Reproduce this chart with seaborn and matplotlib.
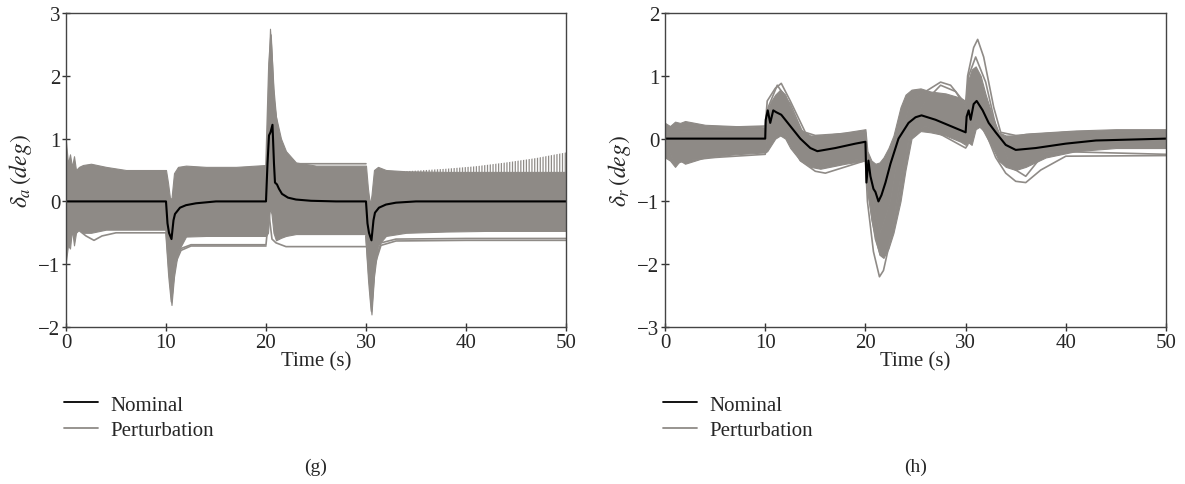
import matplotlib
import seaborn as sns
from matplotlib.lines import Line2D

matplotlib.use('Agg')
import matplotlib.pyplot as plt

# ---- (g) aileron deflection ----
g_nom_t = [0, 10.0, 10.15, 10.3, 10.55, 10.75, 10.9, 11.4, 12, 13, 15, 20.0, 20.15, 20.3, 20.45,
           20.65, 20.8, 20.9, 21.1, 21.3, 21.6, 22.2, 23, 24.5, 27, 30.0, 30.15, 30.3, 30.55,
           30.75, 30.9, 31.3, 32, 33, 35, 50]
g_nom_y = [0, 0, -0.35, -0.5, -0.6, -0.3, -0.2, -0.1, -0.06, -0.03, 0, 0, 0.6, 1.05, 1.1,
           1.22, 0.6, 0.3, 0.27, 0.2, 0.12, 0.06, 0.03, 0.01, 0.0, 0, -0.35, -0.5, -0.62,
           -0.3, -0.18, -0.1, -0.05, -0.02, 0, 0]

g_band_t = [0, 0.2, 0.4, 0.6, 0.8, 1.0, 1.3, 1.7, 2.5, 4, 6, 8, 10.0, 10.2, 10.4, 10.55, 10.8,
            11.2, 12, 14, 17, 20.0, 20.2, 20.4, 20.55, 20.75, 21.0, 21.5, 22.0, 23, 25, 28,
            30.0, 30.2, 30.4, 30.55, 30.8, 31.2, 32, 34, 38, 42, 46, 50]
g_band_hi = [0.95, 0.6, 0.75, 0.55, 0.72, 0.5, 0.55, 0.58, 0.6, 0.55, 0.5, 0.5, 0.5, 0.3, 0.05,
             0.05, 0.45, 0.55, 0.57, 0.55, 0.55, 0.58, 1.8, 2.75, 2.4, 1.8, 1.35, 1.0, 0.8,
             0.62, 0.57, 0.57, 0.57, 0.2, -0.05, 0.1, 0.5, 0.55, 0.5, 0.48, 0.47, 0.47, 0.47, 0.47]
g_band_lo = [-0.95, -0.7, -0.75, -0.45, -0.7, -0.5, -0.45, -0.5, -0.5, -0.45, -0.45, -0.45,
             -0.45, -0.9, -1.4, -1.65, -1.2, -0.8, -0.56, -0.55, -0.55, -0.55, -0.5, -0.1,
             -0.2, -0.5, -0.62, -0.58, -0.55, -0.52, -0.52, -0.52, -0.52, -1.0, -1.55, -1.8,
             -1.2, -0.7, -0.55, -0.5, -0.48, -0.47, -0.47, -0.47]

# growing oscillation tips at the end of (g)
g_osc_t = [32.5, 35, 38, 41, 44, 47, 50]
g_osc_hi = [0.47, 0.49, 0.52, 0.56, 0.62, 0.69, 0.78]
g_osc_lo = [0.45, 0.45, 0.45, 0.45, 0.45, 0.45, 0.45]

g_out = [
    ([1.2, 2.0, 2.8, 3.6, 5, 10.0, 10.3, 10.55, 10.9, 11.5, 12.5, 20.0],
     [-0.45, -0.55, -0.62, -0.55, -0.5, -0.5, -1.2, -1.6, -1.0, -0.78, -0.71, -0.71]),
    ([10.0, 10.3, 10.55, 10.9, 11.5, 12.5, 20.0, 20.3, 20.6, 21.0, 22, 23, 30.0],
     [-0.45, -1.1, -1.5, -0.95, -0.75, -0.69, -0.69, -0.2, -0.6, -0.66, -0.72, -0.72, -0.72]),
    ([30.0, 30.3, 30.55, 30.9, 31.5, 33, 40, 50],
     [-0.55, -1.3, -1.75, -1.0, -0.7, -0.63, -0.62, -0.62]),
    ([30.0, 30.3, 30.55, 30.9, 31.5, 33, 40, 50],
     [-0.55, -1.2, -1.6, -0.95, -0.66, -0.6, -0.59, -0.59]),
    ([20.0, 20.3, 20.5, 20.8, 21.3, 22, 23, 30.0],
     [0.57, 2.2, 2.65, 1.6, 1.0, 0.7, 0.6, 0.6]),
]

# ---- (h) rudder deflection ----
h_nom_t = [0, 10.0, 10.05, 10.25, 10.5, 10.8, 11.1, 11.6, 12.5, 13.5, 14.5, 15.2, 17, 19, 20.0,
           20.1, 20.3, 20.5, 20.8, 21.0, 21.3, 21.6, 22.0, 22.5, 23.3, 24.3, 25, 25.6, 27,
           28.5, 30.0, 30.1, 30.3, 30.5, 30.8, 31.1, 31.7, 32.3, 33, 34, 35, 37, 40, 43, 50]
h_nom_y = [0, 0, 0.3, 0.45, 0.25, 0.45, 0.42, 0.38, 0.2, 0.0, -0.15, -0.2, -0.15, -0.08, -0.05,
           -0.7, -0.35, -0.6, -0.8, -0.85, -1.0, -0.9, -0.7, -0.4, 0.0, 0.25, 0.34, 0.37, 0.3,
           0.2, 0.1, 0.35, 0.45, 0.3, 0.55, 0.6, 0.45, 0.25, 0.1, -0.1, -0.18, -0.15, -0.08,
           -0.03, 0]

h_band_t = [0, 0.5, 1, 1.5, 2, 4, 7, 10.0, 10.2, 10.6, 11.0, 11.5, 12.0, 12.5, 13.5, 14.5,
            15.5, 18, 20.0, 20.2, 20.6, 21.0, 21.4, 21.8, 22.3, 22.8, 23.5, 24.0, 24.6, 25.5,
            26.5, 28, 29.5, 30.0, 30.2, 30.6, 31.0, 31.5, 32.0, 32.7, 33.3, 34, 35, 36, 38,
            41, 45, 50]
h_band_hi = [0.25, 0.2, 0.27, 0.25, 0.28, 0.22, 0.2, 0.18, 0.45, 0.6, 0.7, 0.78, 0.7, 0.5,
             0.15, 0.05, 0.05, 0.1, 0.15, -0.2, -0.35, -0.4, -0.38, -0.3, -0.15, 0.05, 0.5,
             0.7, 0.78, 0.8, 0.75, 0.72, 0.65, 0.6, 0.9, 1.1, 1.15, 1.0, 0.7, 0.35, 0.1, 0.05,
             0.05, 0.08, 0.1, 0.13, 0.15, 0.15]
h_band_lo = [-0.3, -0.35, -0.45, -0.35, -0.4, -0.3, -0.25, -0.22, -0.2, -0.1, 0.0, 0.05, 0.0,
             -0.15, -0.35, -0.45, -0.48, -0.4, -0.35, -0.8, -1.3, -1.6, -1.85, -1.9, -1.75,
             -1.5, -1.0, -0.5, 0.0, 0.12, 0.1, 0.05, -0.05, -0.1, -0.05, -0.1, 0.15, 0.2,
             0.05, -0.15, -0.35, -0.45, -0.5, -0.45, -0.3, -0.2, -0.15, -0.15]

h_out = [
    ([0, 10.0, 10.2, 11.0, 11.6, 12.5, 14, 15, 20.0, 20.2, 21.0, 21.5, 22.5, 23.5, 24.5, 26,
      27.5, 28.5, 30.0, 30.2, 30.8, 31.2, 31.8, 32.8, 33.5, 35, 40, 50],
     [0.15, 0.2, 0.6, 0.8, 0.88, 0.6, 0.1, 0.05, 0.1, -0.4, -1.2, -1.5, -1.0, 0.0, 0.6, 0.75,
      0.9, 0.85, 0.55, 1.0, 1.45, 1.58, 1.3, 0.5, 0.1, 0.05, 0.1, 0.12]),
    ([0, 1, 2, 5, 10.0, 10.2, 11, 12, 13.5, 15, 16, 18, 20.0, 20.2, 20.8, 21.4, 21.8, 22.5,
      23.5, 24.5, 26, 30.0, 30.2, 31, 32, 33, 34, 35, 36, 37.5, 40, 50],
     [-0.05, -0.4, -0.35, -0.3, -0.25, 0.1, 0.3, 0.1, -0.35, -0.52, -0.55, -0.45, -0.35, -1.0,
      -1.8, -2.2, -2.1, -1.6, -0.6, 0.05, 0.2, -0.15, -0.1, 0.25, 0.1, -0.3, -0.55, -0.68,
      -0.7, -0.5, -0.28, -0.27]),
    ([0, 10.0, 10.3, 11.2, 12.5, 14, 16, 20.0, 20.3, 21.0, 21.5, 22.3, 23.5, 24.5, 26, 27.5,
      29, 30.0, 30.3, 31.0, 32, 33, 34.5, 36, 38, 50],
     [0.1, 0.15, 0.5, 0.85, 0.55, 0.0, -0.45, -0.3, -0.9, -1.6, -1.85, -1.7, -0.8, 0.2, 0.6,
      0.85, 0.75, 0.5, 1.0, 1.3, 0.9, 0.2, -0.45, -0.6, -0.2, -0.25]),
]

line_gray = '#8f8b87'
band_gray = '#8e8a86'

sns.set_style('ticks')
plt.rcParams['font.family'] = ['Liberation Serif', 'DejaVu Serif']
plt.rcParams['mathtext.fontset'] = 'stix'
plt.rcParams['hatch.linewidth'] = 0.9
plt.rcParams['hatch.color'] = line_gray

fig = plt.figure(figsize=(11.85, 4.85), dpi=100)
ax_g = fig.add_axes([0.0557, 0.3237, 0.4219, 0.6474])
ax_h = fig.add_axes([0.5612, 0.3237, 0.4228, 0.6474])


def draw_panel(ax, nom_t, nom_y, band_t, band_hi, band_lo, outliers, ylim, ylabel, tag):
    ax.fill_between(band_t, band_lo, band_hi, color=band_gray, lw=0.8)
    for tt, yy in outliers:
        sns.lineplot(x=tt, y=yy, ax=ax, color=line_gray, lw=1.2, sort=False)
    sns.lineplot(x=nom_t, y=nom_y, ax=ax, color='black', lw=1.5, sort=False)
    ax.set_xlim(0, 50)
    ax.set_ylim(*ylim)
    ax.set_xticks(range(0, 51, 10))
    ax.set_yticks(range(ylim[0], ylim[1] + 1))
    ax.set_yticklabels([str(v).replace('-', '\u2212') for v in range(ylim[0], ylim[1] + 1)])
    ax.set_xlabel('Time (s)', fontsize=15, labelpad=0)
    ax.set_ylabel(ylabel, fontsize=17, labelpad=3)
    ax.tick_params(labelsize=15, direction='inout', length=6, width=1, color='#333333',
                   pad=1)
    for sp in ax.spines.values():
        sp.set_visible(True)
        sp.set_color('#444444')
        sp.set_linewidth(1.0)
    handles = [Line2D([0], [0], color='black', lw=1.3),
               Line2D([0], [0], color=line_gray, lw=1.3)]
    ax.legend(handles, ['Nominal', 'Perturbation'], loc='upper left',
              bbox_to_anchor=(-0.02, -0.19), borderaxespad=0, frameon=False,
              fontsize=15, handlelength=1.6, handletextpad=0.6, labelspacing=0.3)
    ax.text(0.5, -0.445, tag, transform=ax.transAxes, ha='center', va='center', fontsize=14)


draw_panel(ax_g, g_nom_t, g_nom_y, g_band_t, g_band_hi, g_band_lo, g_out, (-2, 3),
           r'$\delta_a\,(deg)$', '(g)')
ax_g.fill_between(g_osc_t, g_osc_lo, g_osc_hi, facecolor='none', edgecolor=line_gray,
                  hatch='||||||', lw=0)
draw_panel(ax_h, h_nom_t, h_nom_y, h_band_t, h_band_hi, h_band_lo, h_out, (-3, 2),
           r'$\delta_r\,(deg)$', '(h)')

fig.savefig('out.png', dpi=100)
plt.close(fig)
